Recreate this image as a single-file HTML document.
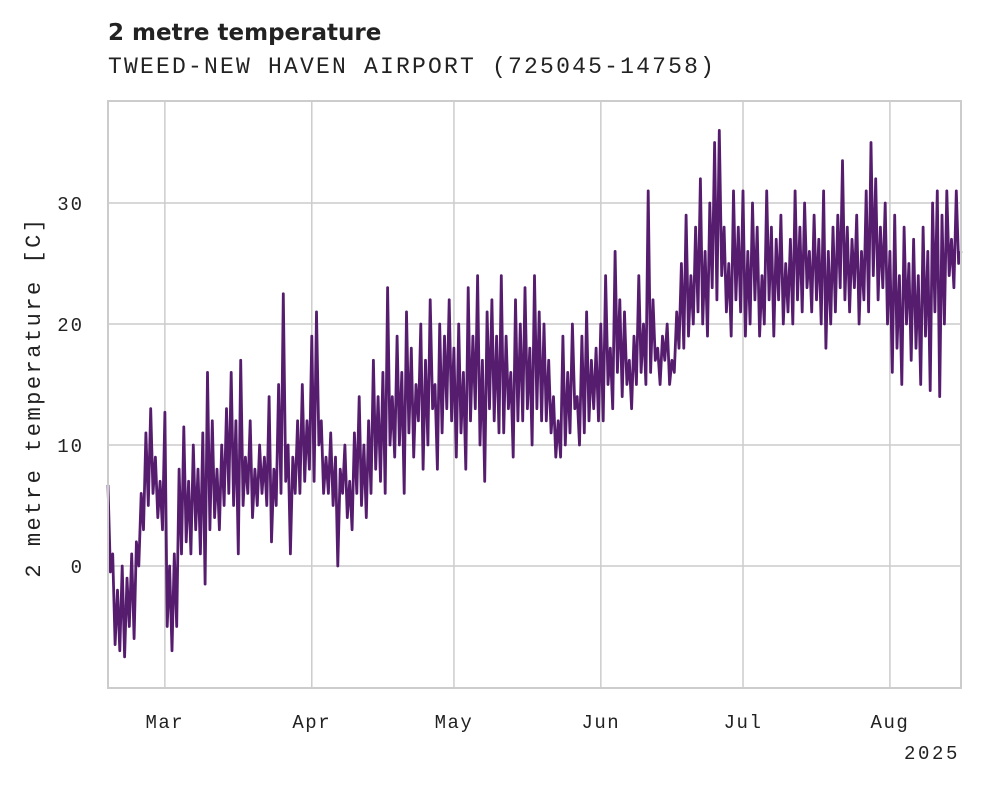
<!DOCTYPE html>
<html><head><meta charset="utf-8"><style>
body{margin:0;background:#fff;width:981px;height:785px;overflow:hidden}
svg text{font-family:"Liberation Mono",monospace;fill:#222}
</style></head><body>
<svg id="chart" width="981" height="785" xmlns="http://www.w3.org/2000/svg">
<text x="108" y="40" style="font-family:'DejaVu Sans',sans-serif;font-weight:bold;font-size:23px">2 metre temperature</text>
<text x="108" y="73" style="font-size:23px;letter-spacing:2.2px">TWEED-NEW HAVEN AIRPORT (725045-14758)</text>
<g id="grid"></g>
<g id="series"></g>
<rect x="108" y="101" width="853" height="587" fill="none" stroke="#ccc" stroke-width="2"/>
<text transform="translate(40,397) rotate(-90)" text-anchor="middle" style="font-size:22px;letter-spacing:2.5px">2 metre temperature [C]</text>
<text x="960" y="759" text-anchor="end" style="font-size:19px;letter-spacing:2.6px">2025</text>
</svg>
<script>
const monthLabels=["Mar","Apr","May","Jun","Jul","Aug"];
const monthDays=[12,43,73,104,134,165];
const yTicks=[0,10,20,30];
const stepDays=0.5;
const temps=[6.7,-0.5,1,-6.5,-2,-7,0,-7.5,-1,-5,1,-6,2,0,6,3,11,5,13,6,9,4,7,3,
12.7,-5,0,-7,1,-5,8,1,11.5,2,7,1,10,3,
8,1,11,-1.5,16,3,12,4,8,3,10,5,13,6,
16,5,12,1,17,5,9,6,12,4,8,5,10,6,
9,5,14,2,8,5,15,6,22.5,7,10,1,9,6,12,6,15,7,12,8,
19,7,21,10,12,6,9,6,11,5,9,0,8,6,10,4,7,3,11,6,
14,5,10,4,12,6,17,8,14,7,16,6,23,10,14,9,19,10,16,6,
21,11,18,9,15,12,20,8,17,10,22,13,15,8,20,11,19,13,22,12,
18,9,20,11,16,8,23,12,19,13,24,10,17,7,21,13,22,12,19,11,
24,11,19,13,16,9,22,12,20,12,23,13,18,10,24,13,21,12,20,12,
17,11,14,9,12,9,19,10,16,11,20,13,14,10,19,11,21,12,17,13,18,12,
20,12,24,15,18,13,26,16,22,14,21,15,17,13,19,15,24,16,20,15,
31,16,22,17,18,15,19,17,20,15,17,16,21,18,25,18,29,19,24,20,
28,21,32,20,26,19,30,23,35,22,36,24,28,21,25,19,31,22,28,21,
31,19,26,20,30,22,28,19,24,20,31,22,28,19,27,22,29,20,25,21,
27,20,31,22,28,21,30,23,26,21,29,22,27,20,31,18,26,20,28,21,
29,23,33.5,22,28,21,27,23,29,20,26,22,31,21,35,24,32,22,28,23,30,20,
26,16,29,18,24,15,28,20,25,17,27,18,24,15,28,19,26,14.5,30,21,
31,14,29,20,31,24,27,23,31,25,26];
const X0=108,X1=961,D0=0,D1=180;
const Y0=566,PXU=12.1;
const xs=d=>X0+(d-D0)/(D1-D0)*(X1-X0);
const ys=v=>Y0-v*PXU;
const NS="http://www.w3.org/2000/svg";
const svg=document.getElementById('chart');
const grid=document.getElementById('grid');
monthDays.forEach((d,i)=>{
 const l=document.createElementNS(NS,'line');
 
 
 l.setAttribute('x1',xs(d));l.setAttribute('x2',xs(d));l.setAttribute('y1',101);l.setAttribute('y2',688);
 l.setAttribute('stroke','#ccc');l.setAttribute('stroke-width','1.5');grid.appendChild(l);
 const t=document.createElementNS(NS,'text');
 
 
 t.setAttribute('x',xs(d));t.setAttribute('y',728);t.setAttribute('text-anchor','middle');
 t.setAttribute('style','font-size:19px;letter-spacing:1.5px');t.textContent=monthLabels[i];svg.appendChild(t);
});
yTicks.forEach(v=>{
 const l=document.createElementNS(NS,'line');
 
 
 l.setAttribute('x1',108);l.setAttribute('x2',961);l.setAttribute('y1',ys(v));l.setAttribute('y2',ys(v));
 l.setAttribute('stroke','#ccc');l.setAttribute('stroke-width','1.5');grid.appendChild(l);
 const t=document.createElementNS(NS,'text');
 
 
 t.setAttribute('x',84);t.setAttribute('y',ys(v)+7);t.setAttribute('text-anchor','end');
 t.setAttribute('style','font-size:19px;letter-spacing:2px');t.textContent=v;svg.appendChild(t);
});
const p=document.createElementNS(NS,'path');


p.setAttribute('d',temps.map((v,i)=>(i?'L':'M')+xs(i*stepDays).toFixed(1)+','+ys(v).toFixed(1)).join(''));
p.setAttribute('fill','none');p.setAttribute('stroke','#561d6e');p.setAttribute('stroke-width','2.8');p.setAttribute('stroke-linejoin','round');
document.getElementById('series').appendChild(p);
</script>
</body></html>
